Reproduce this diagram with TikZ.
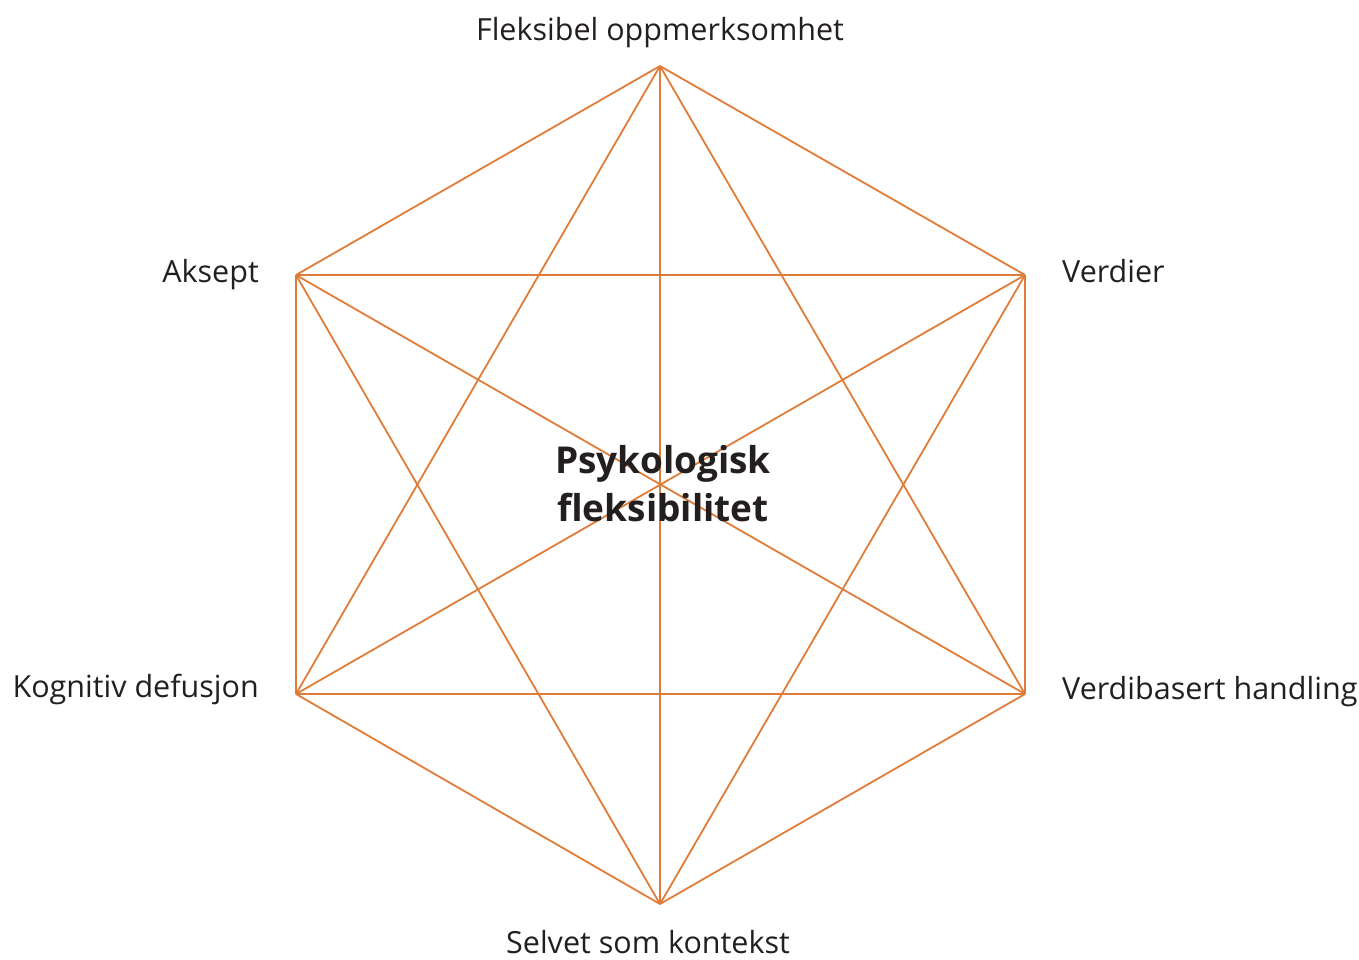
\documentclass[tikz,border=0pt]{standalone}
\usepackage{fontspec}
\setmainfont{Open Sans}
\definecolor{hexorange}{RGB}{224,124,56}
\definecolor{txt}{RGB}{35,31,30}
\begin{document}
\begin{tikzpicture}[x=1pt,y=-1pt,
  edge/.style={draw=hexorange,line width=1.8pt},
  lbl/.style={inner sep=0pt,text=txt,font=\fontsize{30.5}{36}\selectfont},
  center/.style={inner sep=0pt,text=txt,align=center,font=\bfseries\fontsize{37}{48}\selectfont}]
\useasboundingbox (0,0) rectangle (1359,959);
\coordinate (T) at (660,66);
\coordinate (UR) at (1025,275);
\coordinate (LR) at (1025,694);
\coordinate (B) at (660,904);
\coordinate (LL) at (296,694);
\coordinate (UL) at (296,275);
\foreach \a/\b in {T/UR,UR/LR,LR/B,B/LL,LL/UL,UL/T,T/LR,T/B,T/LL,UR/B,UR/LL,UR/UL,LR/LL,LR/UL,B/UL}
  \draw[edge] (\a) -- (\b);
\node[lbl,anchor=base] (nT) at (660,40) {Fleksibel oppmerksomhet};
\node[lbl,anchor=base east] (nUL) at (259,282) {Aksept};
\node[lbl,anchor=base west] (nUR) at (1062,282) {Verdier};
\node[lbl,anchor=base east] (nLL) at (259,697) {Kognitiv defusjon};
\node[lbl,anchor=base west] (nLR) at (1062,699) {Verdibasert handling};
\node[lbl,anchor=base] (nB) at (648,953) {Selvet som kontekst};
\node[center] (c) at (663,484) {Psykologisk\\fleksibilitet};
\end{tikzpicture}
\end{document}
